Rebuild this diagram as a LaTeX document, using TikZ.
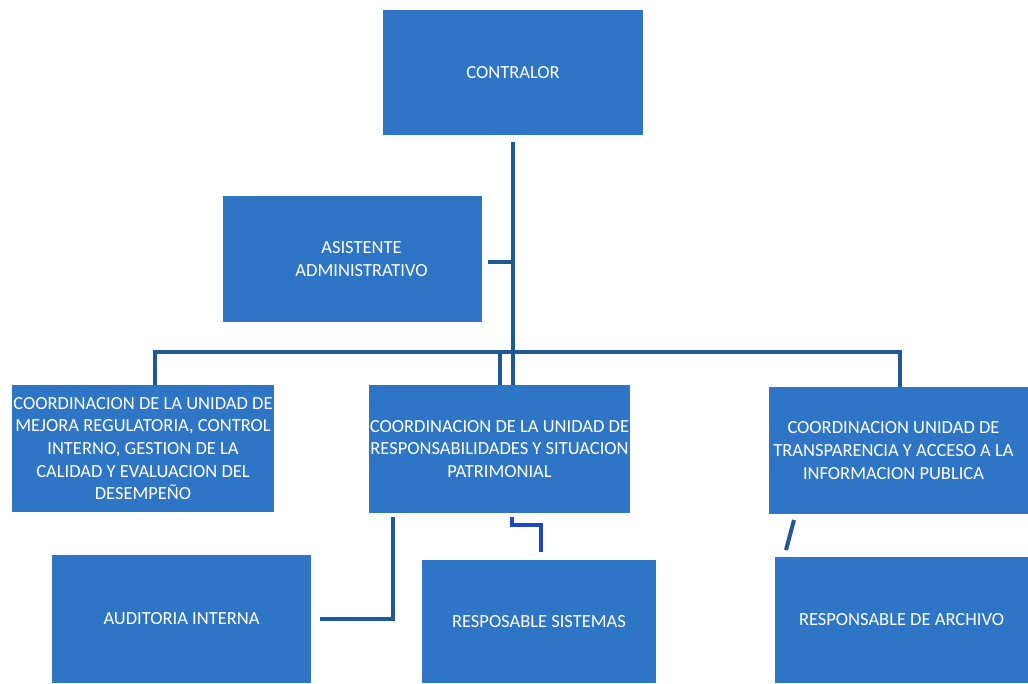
\documentclass[tikz,border=0pt]{standalone}
\usepackage{fontspec}
\setmainfont{Carlito}
\definecolor{boxblue}{RGB}{46,117,197}
\definecolor{linkblue}{RGB}{31,88,150}
\definecolor{brightblue}{RGB}{30,70,200}
\newcommand\zl[1]{\makebox[0pt]{#1}}
\begin{document}
\begin{tikzpicture}[x=1pt,y=-1pt,
  unitbox/.style={draw=none, fill=boxblue, text=white, inner sep=0pt, align=center,
    font=\fontsize{18.5}{22.7}\selectfont},
  link/.style={draw=linkblue, line width=4pt},
  brightlink/.style={draw=brightblue, line width=4pt},
]
\useasboundingbox (0,0) rectangle (1028,683);
\fill[white] (0,0) rectangle (1028,683);

\node[unitbox, minimum width=260pt, minimum height=125pt] (contralor) at (513,72.5) {\zl{CONTRALOR}};
\node[unitbox, minimum width=259pt, minimum height=126pt] (asistente) at (352.5,259) {\zl{\hspace*{18pt}ASISTENTE}\\\zl{\hspace*{18pt}ADMINISTRATIVO}};
\node[unitbox, minimum width=262pt, minimum height=127pt] (coordL) at (143,448.5)
  {\zl{COORDINACION DE LA UNIDAD DE}\\\zl{MEJORA REGULATORIA, CONTROL}\\\zl{INTERNO, GESTION DE LA}\\\zl{CALIDAD Y EVALUACION DEL}\\\zl{DESEMPEÑO}};
\node[unitbox, minimum width=261pt, minimum height=128pt] (coordM) at (499.5,449)
  {\zl{COORDINACION DE LA UNIDAD DE}\\\zl{RESPONSABILIDADES Y SITUACION}\\\zl{PATRIMONIAL}};
\node[unitbox, minimum width=259pt, minimum height=127pt] (coordR) at (898.5,450.5)
  {\zl{\hspace*{-10pt}COORDINACION UNIDAD DE}\\\zl{\hspace*{-10pt}TRANSPARENCIA Y ACCESO A LA}\\\zl{\hspace*{-10pt}INFORMACION PUBLICA}};
\node[unitbox, minimum width=259pt, minimum height=128pt] (auditoria) at (181.5,619) {\zl{AUDITORIA INTERNA}};
\node[unitbox, minimum width=234pt, minimum height=123pt] (sistemas) at (539,621.5) {\zl{RESPOSABLE SISTEMAS}};
\node[unitbox, minimum width=253pt, minimum height=126pt] (archivo) at (901.5,620) {\zl{RESPONSABLE DE ARCHIVO}};

% trunk and bus
\coordinate (t0) at (513,142);
\coordinate (busL) at (155,352);
\coordinate (busM) at (500,352);
\coordinate (busR) at (900,352);
\draw[link] (t0) -- (t0 |- coordM.north);
\draw[link] (coordL.north -| busL) -- (busL) -- (busR) -- (busR |- coordR.north);
\draw[link] (busM) -- (busM |- coordM.north);
\draw[link] ([xshift=6pt,yshift=-3pt]asistente.east) -- ([yshift=-3pt]asistente.east -| t0);

% lower connectors
\coordinate (aud1) at (393,517);
\draw[link] (aud1) |- ([xshift=9pt]auditoria.east);
\coordinate (sis1) at (512,517);
\coordinate (sis2) at (541,552);
\draw[brightlink] (sis1) -- (sis1 |- 0,525) -| (sis2);
\coordinate (arc1) at (794,520);
\coordinate (arc2) at (786,550);
\draw[link] (arc1) -- (arc2);
\end{tikzpicture}
\end{document}
